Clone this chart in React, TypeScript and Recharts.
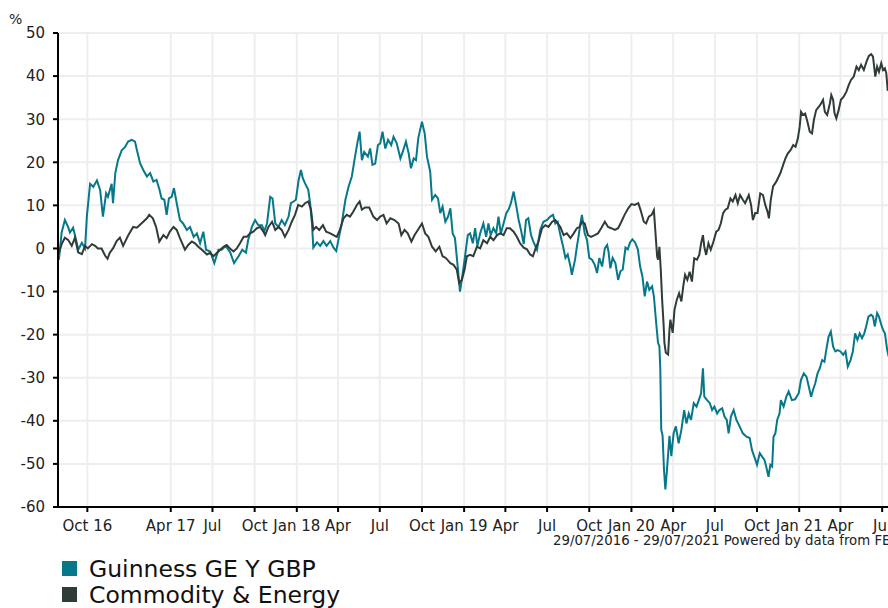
import React from 'react';
import { LineChart, Line, XAxis, YAxis, CartesianGrid } from 'recharts';

// x = days since 29/07/2016
const guinness: [number, number][] = [
  [0, -2], [2, -2.6], [8, 3.7], [15, 6.6], [22, 5], [26, 3.7], [33, 4.8], [41, 1.3], [44, -0.3], [52, 1.3], [59, 0],
  [63, 7.5], [70, 15], [77, 14.3], [85, 15.8], [92, 13.5], [98, 7.4], [105, 12.8], [109, 12], [117, 15], [120, 10.5],
  [125, 17.5], [131, 20.5], [139, 22.8], [146, 23.5], [153, 24.8], [161, 25.2], [168, 24.8], [172, 22.9], [179, 19.8],
  [186, 18.2], [194, 16.7], [201, 17.5], [208, 15.5], [215, 15.9], [221, 13.8], [226, 11.6], [232, 11.3], [237, 7.8],
  [242, 11.6], [248, 12], [253, 14], [259, 10.5], [266, 6.6], [273, 5.8], [281, 4.3], [288, 5], [296, 2.7], [303, 3.5],
  [310, 1.2], [317, 3.9], [323, -0.3], [332, -0.7], [341, -3.4], [350, -0.3], [357, -0.3], [366, 0.6], [376, -1],
  [384, -3.4], [394, -1.8], [402, -0.3], [410, -1], [415, 2], [423, 5], [430, 6.6], [437, 5.4], [445, 5.4], [450, 4],
  [456, 5.8], [463, 12], [468, 11.6], [474, 5.8], [481, 5], [488, 6.6], [495, 5.4], [503, 7.4], [508, 10.5], [514, 10.9],
  [519, 11.3], [525, 15.9], [530, 18.2], [534, 16.3], [539, 15.1], [546, 13.6], [550, 10.5], [554, 5.8], [557, 0.2],
  [565, 1.4], [572, 0.6], [579, 1.7], [586, 0.6], [594, 1.7], [601, 0.2], [607, -0.6], [612, 2.1], [619, 5.8], [627, 11.3],
  [634, 14.4], [641, 16.7], [648, 21.3], [653, 24.4], [658, 27.1], [663, 20.5], [668, 22.4], [676, 21.3], [681, 23.2],
  [686, 19.4], [692, 19.7], [698, 24], [703, 24.4], [708, 27.1], [714, 23.2], [720, 25.2], [727, 24], [732, 25.9],
  [739, 24.4], [747, 20.9], [752, 22.4], [759, 24.8], [765, 22.1], [770, 18.6], [776, 20.9], [781, 20.5], [786, 25.6],
  [794, 29.4], [800, 26.7], [805, 21.3], [812, 17.8], [816, 11.3], [823, 12.4], [829, 11.6], [834, 8.2], [839, 9.7],
  [845, 6.2], [851, 7.4], [856, 9.3], [861, 3.5], [866, 2.4], [872, -4.2], [877, -10], [882, -6.5], [888, -1.8],
  [894, 3.1], [899, 3.5], [905, 1.2], [910, 4.7], [915, 0.6], [921, 3.5], [928, 5.8], [934, 2.7], [939, 5.8], [944, 3.1],
  [950, 4.7], [956, 3.5], [961, 7.4], [966, 3.5], [972, 5.8], [978, 8.2], [983, 9], [988, 10.5], [994, 13.2], [1000, 9.7],
  [1005, 6.6], [1010, 4.3], [1016, 1], [1021, 6.6], [1026, 7], [1032, 3.1], [1037, 1.6], [1045, -0.3], [1052, 4.3],
  [1059, 6.2], [1067, 6.6], [1074, 7.4], [1080, 7.8], [1085, 5.8], [1090, 6.2], [1096, 3.1], [1102, 0.4], [1107, -2.2],
  [1112, -1.4], [1118, -4.2], [1121, -6.1], [1128, -2.6], [1132, 0.4], [1136, 3], [1139, 5.4], [1143, 7.8], [1149, 3.5],
  [1154, 2], [1159, -2.2], [1165, -2.6], [1171, -3.8], [1176, -5.7], [1181, -2.2], [1187, -4.2], [1193, 0], [1198, 0.8],
  [1201, -0.7], [1205, -4.6], [1210, -2.2], [1216, -3.4], [1222, -7.3], [1227, -5.3], [1232, -4.9], [1238, 0.2],
  [1243, -0.2], [1248, 1.4], [1253, 2.1], [1259, 1.4], [1265, -0.2], [1270, -4.2], [1275, -6.5], [1280, -11.1],
  [1285, -7.7], [1290, -9.6], [1296, -8.8], [1300, -11.1], [1305, -17.3], [1309, -21.9], [1312, -22.7], [1314, -28.1],
  [1316, -42], [1319, -43.5], [1322, -51.3], [1325, -55.9], [1328, -52.1], [1334, -43.5], [1338, -48.2], [1343, -42.9],
  [1348, -41.3], [1354, -45.2], [1360, -42.1], [1366, -37.5], [1371, -40.6], [1376, -38.3], [1381, -39.8], [1387, -35.9],
  [1393, -36.7], [1398, -35.2], [1403, -33.6], [1407, -27.8], [1410, -34.4], [1416, -35.2], [1422, -35.9], [1427, -37.5],
  [1432, -36.7], [1438, -38.3], [1443, -37.5], [1449, -37.1], [1454, -39], [1459, -39.8], [1463, -42.9], [1468, -39],
  [1474, -37.5], [1480, -39.8], [1487, -41.3], [1494, -42.9], [1502, -43.7], [1509, -44], [1514, -46.8], [1519, -48.3],
  [1525, -50.2], [1531, -47.5], [1536, -48.3], [1541, -49], [1545, -50.6], [1550, -53], [1554, -50.2], [1558, -50.6],
  [1561, -43.7], [1565, -42.9], [1569, -39.8], [1574, -38.3], [1577, -35.2], [1583, -36.7], [1589, -34.4], [1594, -33.2],
  [1601, -35.2], [1608, -35], [1616, -33.6], [1621, -30.5], [1627, -29], [1633, -29.8], [1638, -32.1], [1643, -34.4],
  [1647, -32.9], [1652, -31.3], [1657, -29], [1662, -27.8], [1667, -25.9], [1672, -26.3], [1676, -23.6], [1681, -20.5],
  [1686, -19.3], [1691, -22.8], [1696, -23.9], [1701, -23.6], [1707, -23.9], [1713, -24.7], [1718, -23.9], [1723, -27.4],
  [1729, -25.9], [1734, -23.9], [1739, -19.7], [1744, -21.2], [1749, -19.7], [1754, -20.8], [1759, -19.7], [1763, -18.1],
  [1768, -15.8], [1774, -15.4], [1778, -15.8], [1782, -18.1], [1787, -15], [1791, -15.8], [1796, -17.7], [1800, -18.9],
  [1804, -19.7], [1809, -23.6], [1812, -25], [1826, -26],
];

const commodity: [number, number][] = [
  [0, -1], [2, -1], [8, 1], [15, 2.5], [22, 2], [30, 0.6], [37, 2.5], [44, -0.9], [52, -1.3], [59, 0.6], [65, 0], [74, 1],
  [81, 0.6], [87, 0], [95, 0], [103, -1.7], [108, -2.4], [113, -1], [120, 0], [128, 1.7], [135, 2.5], [142, 0.6], [153, 3],
  [164, 5], [172, 4.8], [179, 5.5], [186, 6.2], [194, 7], [199, 7.8], [207, 7], [214, 5], [221, 1.6], [230, 3.1],
  [237, 2.4], [244, 3.9], [252, 5], [259, 4.3], [266, 2.4], [277, -0.3], [284, 0.8], [292, 1.6], [299, 1.2], [306, 0.4],
  [314, -0.3], [325, -1.4], [332, -1], [339, -1.8], [350, -0.7], [361, 0.4], [368, 0.8], [375, 0], [383, -0.7], [390, 0],
  [397, 1.2], [405, 2.7], [412, 2.7], [419, 3.5], [426, 3.9], [434, 4.7], [441, 5], [448, 3.9], [452, 3.1], [459, 5],
  [467, 6.2], [474, 4.3], [481, 5], [488, 4.3], [495, 2.7], [503, 4.3], [510, 6.2], [517, 7.8], [524, 10.1], [532, 9.7],
  [539, 10.5], [546, 10.9], [552, 9], [557, 4.3], [563, 5], [570, 4.3], [578, 5.4], [585, 3.9], [594, 3.5], [601, 3.1],
  [608, 2.7], [615, 4.3], [623, 7], [630, 7.8], [637, 7.4], [644, 8.5], [652, 10.1], [658, 10.9], [663, 9], [670, 9.5],
  [679, 9.5], [688, 7.4], [696, 6.6], [703, 7.4], [710, 7.8], [717, 5.8], [725, 7], [734, 6.6], [743, 5.8], [749, 3.1],
  [756, 4.3], [763, 3.5], [771, 1.6], [778, 3.1], [785, 4.3], [794, 5.8], [801, 3.5], [808, 2.7], [816, 0.4], [824, -0.7],
  [832, 0.4], [839, -1.8], [846, -2.2], [856, -3.4], [863, -3.8], [870, -4.9], [875, -8], [881, -7.3], [887, -4.9],
  [892, -1.8], [899, -1.5], [906, -1.8], [914, 0.4], [921, 0], [928, 1.9], [936, 1.2], [943, 2.7], [950, 1.9], [958, 3.1],
  [965, 3.5], [972, 3.1], [979, 4.7], [986, 4.7], [994, 3.9], [1001, 2.7], [1008, 1.2], [1016, 0.2], [1023, -0.2],
  [1030, -1.4], [1036, -1.8], [1042, 0], [1048, 1.6], [1056, 4.7], [1063, 5.4], [1070, 5], [1078, 6.2], [1085, 6.6],
  [1090, 5.8], [1096, 5], [1103, 3.1], [1110, 3.5], [1118, 2.4], [1125, 3.5], [1132, 4.7], [1138, 5], [1143, 6.2],
  [1149, 5.8], [1156, 3.1], [1163, 2.7], [1171, 3.1], [1178, 3.5], [1185, 4.7], [1193, 6.2], [1200, 5], [1207, 4.7],
  [1215, 4.3], [1222, 4.7], [1229, 6.2], [1236, 7.8], [1244, 9.3], [1251, 10.3], [1258, 10.1], [1266, 10.5], [1271, 8.9],
  [1278, 6.2], [1283, 5.8], [1289, 7.4], [1295, 7.8], [1300, 8.9], [1303, 4.3], [1307, -1.8], [1309, -2.6], [1312, 0.4],
  [1315, -4.9], [1318, -11.9], [1321, -17.3], [1323, -21.9], [1326, -24.2], [1331, -24.6], [1334, -18.8], [1336, -16.5],
  [1341, -19.6], [1345, -14.2], [1350, -11.9], [1355, -10.4], [1360, -12.3], [1364, -8.8], [1368, -6.1], [1373, -7.3],
  [1378, -5.4], [1383, -7.7], [1388, -2.3], [1394, -2.6], [1399, -1.5], [1403, 1.2], [1407, 3.1], [1410, 0.4], [1414, -1.5],
  [1419, 1.2], [1424, -0.3], [1430, 1.6], [1436, 3.9], [1441, 4.3], [1446, 5.8], [1451, 8.2], [1456, 9], [1461, 9.3],
  [1467, 11.6], [1472, 10.9], [1478, 12.4], [1483, 10.5], [1488, 12.4], [1494, 11.3], [1499, 10.5], [1507, 12.4],
  [1512, 10.1], [1516, 6.6], [1521, 8.2], [1526, 8.2], [1532, 12.8], [1538, 12.4], [1543, 10.1], [1548, 8.5], [1551, 7],
  [1555, 11.3], [1560, 14.4], [1567, 15.5], [1576, 17.5], [1582, 19.4], [1587, 20.9], [1592, 22], [1598, 22.8], [1604, 24],
  [1609, 23.6], [1614, 25.5], [1618, 28.2], [1621, 31.7], [1625, 31], [1630, 31.3], [1635, 29.4], [1640, 27.1],
  [1645, 26.7], [1649, 29.8], [1654, 32.1], [1660, 32.9], [1665, 33.7], [1669, 34.5], [1673, 31.7], [1678, 31],
  [1684, 33.7], [1687, 35.6], [1691, 34.5], [1694, 31.4], [1698, 30.2], [1703, 32.1], [1708, 34.5], [1714, 35.2],
  [1720, 36.4], [1725, 37.9], [1730, 39.1], [1736, 39.9], [1742, 42.2], [1747, 41.4], [1752, 42.6], [1758, 41.4],
  [1764, 43.4], [1769, 44.7], [1774, 45.1], [1778, 44.5], [1783, 39.9], [1787, 42.2], [1791, 41], [1796, 43], [1800, 41.4],
  [1804, 41.8], [1807, 40.7], [1810, 36.8], [1826, 37],
];

const xTickDays = [64, 246, 337, 429, 521, 611, 702, 794, 886, 976, 1067, 1159, 1251, 1342, 1433, 1525, 1617, 1707, 1798];
const xTickLabels = ['Oct 16', 'Apr 17', 'Jul', 'Oct', 'Jan 18', 'Apr', 'Jul', 'Oct', 'Jan 19', 'Apr', 'Jul', 'Oct', 'Jan 20', 'Apr', 'Jul', 'Oct', 'Jan 21', 'Apr', 'Jul'];
const yTicks = [-60, -50, -40, -30, -20, -10, 0, 10, 20, 30, 40, 50];
const seriesNames = ['Guinness GE Y GBP', 'Commodity & Energy'];
const dateRangeText = '29/07/2016 - 29/07/2021 Powered by data from FE';

const TEAL = '#06788a';
const DARK = '#303c39';
const FONT = 'DejaVu Sans, Verdana, sans-serif';

function buildData() {
  const map = new Map<number, { day: number; g?: number; c?: number }>();
  guinness.forEach(([d, v]) => {
    const r = map.get(d) || { day: d };
    r.g = v;
    map.set(d, r);
  });
  commodity.forEach(([d, v]) => {
    const r = map.get(d) || { day: d };
    r.c = v;
    map.set(d, r);
  });
  return Array.from(map.values()).sort((a, b) => a.day - b.day);
}

const data = buildData();

const labelFor = (d: number) => {
  const i = xTickDays.indexOf(d);
  return i >= 0 ? xTickLabels[i] : '';
};

export default function App() {
  return (
    <div style={{ position: 'absolute', left: 0, top: 0, width: 888, height: 608, overflow: 'hidden', background: '#fff' }}>
      <div style={{ position: 'absolute', left: 0, top: 0 }}>
        <LineChart width={900} height={608} data={data} margin={{ top: 33, right: 5, left: 0, bottom: 71 }}>
          <CartesianGrid stroke="#eeeeee" strokeWidth={2} />
          <XAxis
            dataKey="day"
            type="number"
            domain={[0, 1826]}
            ticks={xTickDays}
            tickFormatter={labelFor}
            interval={0}
            height={30}
            tickSize={5}
            tickMargin={8}
            axisLine={{ stroke: '#000', strokeWidth: 2 }}
            tickLine={{ stroke: '#000', strokeWidth: 2 }}
            tick={{ fill: '#222', fontSize: 15, fontFamily: FONT }}
            allowDataOverflow
          />
          <YAxis
            type="number"
            domain={[-60, 50]}
            ticks={yTicks}
            interval={0}
            width={58}
            tickSize={5}
            tickMargin={8}
            axisLine={{ stroke: '#000', strokeWidth: 2 }}
            tickLine={{ stroke: '#000', strokeWidth: 2 }}
            tick={{ fill: '#222', fontSize: 15, fontFamily: FONT }}
          />
          <Line type="linear" dataKey="g" stroke={TEAL} strokeWidth={2} dot={false} connectNulls isAnimationActive={false} />
          <Line type="linear" dataKey="c" stroke={DARK} strokeWidth={2} dot={false} connectNulls isAnimationActive={false} />
        </LineChart>
      </div>
      <svg width={888} height={608} style={{ position: 'absolute', left: 0, top: 0, pointerEvents: 'none' }}>
        <text x={9} y={24} fontSize={14} fontFamily={FONT} fill="#222">%</text>
        <text x={553} y={545} fontSize={13.3} fontFamily={FONT} fill="#222">{dateRangeText}</text>
        <rect x={62} y={561} width={15} height={15} fill={TEAL} />
        <text x={89} y={576.5} fontSize={23.5} fontFamily={FONT} fill="#111">{seriesNames[0]}</text>
        <rect x={62} y={587} width={15} height={15} fill={DARK} />
        <text x={89} y={602.5} fontSize={23.5} fontFamily={FONT} fill="#111">{seriesNames[1]}</text>
      </svg>
    </div>
  );
}
